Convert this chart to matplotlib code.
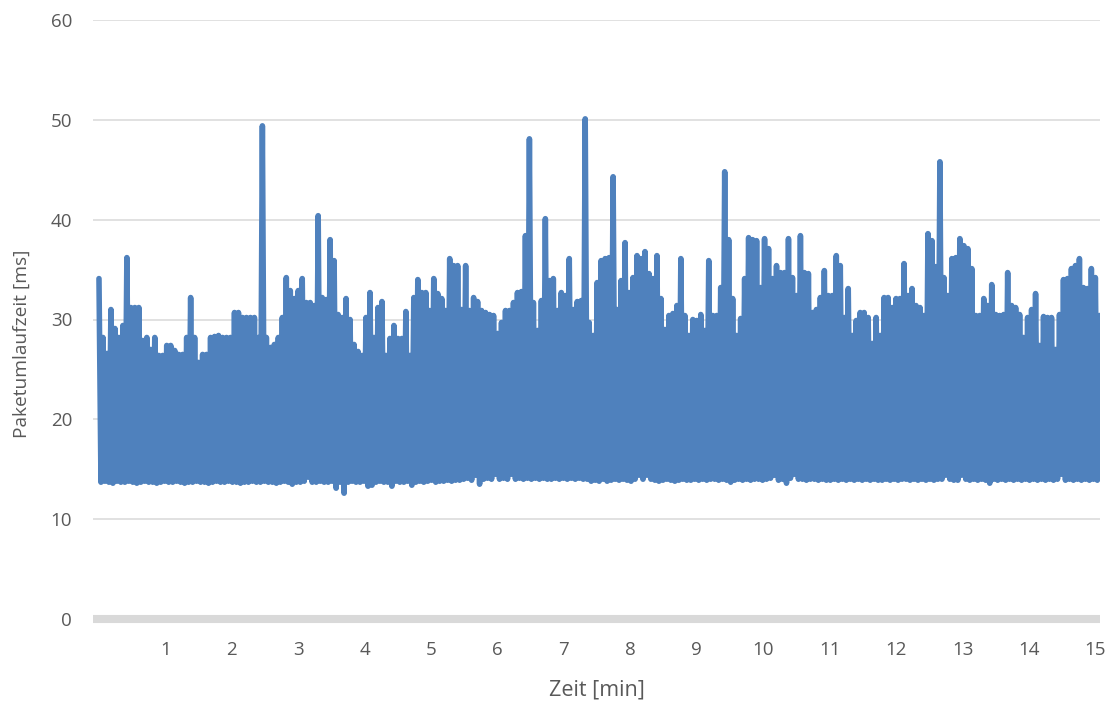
import numpy as np
import matplotlib
matplotlib.use("Agg")
import matplotlib.pyplot as plt

plt.rcParams['font.family'] = ['Open Sans', 'DejaVu Sans']

# ---- data ----
# local maxima of the round-trip time [ms], one every 3.6 s
peaks = [
    34.1, 28.2, 26.6, 31.0, 29.1, 28.2, 29.4, 36.2, 31.2, 31.2,
    31.2, 27.9, 28.2, 27.0, 28.2, 26.4, 26.4, 27.4, 27.4, 26.9,
    26.5, 26.5, 28.2, 32.2, 28.2, 25.7, 26.5, 26.5, 28.2, 28.3,
    28.4, 28.2, 28.2, 28.2, 30.7, 30.7, 30.2, 30.2, 30.2, 30.2,
    28.2, 49.4, 28.2, 27.2, 27.5, 28.2, 30.2, 34.2, 32.9, 32.1,
    32.9, 34.1, 31.7, 31.7, 31.4, 40.4, 32.2, 32.0, 38.0, 35.9,
    30.5, 30.2, 32.1, 30.0, 27.5, 26.8, 26.4, 30.2, 32.7, 28.2,
    31.2, 31.8, 26.4, 28.1, 29.4, 28.1, 28.1, 30.8, 26.4, 32.2,
    34.0, 32.7, 32.7, 30.9, 34.1, 32.6, 32.1, 30.9, 36.1, 35.4,
    35.4, 31.0, 35.4, 30.9, 32.2, 31.8, 30.9, 30.7, 30.5, 30.4,
    28.6, 29.7, 30.9, 30.9, 31.7, 32.7, 32.8, 38.4, 48.1, 31.7,
    28.9, 31.9, 40.1, 33.9, 34.1, 30.9, 32.7, 32.4, 36.1, 31.0,
    31.8, 31.9, 50.1, 29.7, 28.4, 33.7, 35.9, 36.1, 36.2, 44.3,
    31.0, 33.9, 37.7, 32.7, 34.2, 36.4, 36.1, 36.8, 34.6, 34.1,
    36.4, 32.1, 29.0, 30.4, 30.6, 31.4, 36.1, 30.4, 28.4, 30.0,
    29.9, 30.5, 28.9, 35.9, 30.4, 30.4, 33.2, 44.8, 38.0, 32.1,
    28.4, 30.1, 34.1, 38.2, 38.0, 37.9, 33.2, 38.1, 37.1, 34.1,
    35.4, 34.7, 34.7, 38.1, 34.2, 32.4, 38.4, 34.7, 34.6, 30.7,
    31.0, 32.2, 34.9, 32.4, 32.4, 36.4, 35.4, 30.2, 33.1, 28.4,
    29.9, 30.7, 30.7, 30.2, 27.6, 30.2, 28.4, 32.2, 32.2, 31.2,
    32.1, 32.1, 35.6, 32.4, 33.1, 31.4, 31.2, 30.4, 38.6, 37.9,
    35.3, 45.8, 34.2, 32.4, 36.1, 36.2, 38.1, 37.4, 37.1, 35.1,
    30.4, 30.4, 32.1, 31.4, 33.5, 30.5, 30.4, 30.5, 34.7, 31.4,
    31.2, 30.5, 28.2, 30.2, 31.0, 32.6, 27.4, 30.3, 30.2, 30.2,
    27.0, 30.5, 34.0, 34.1, 35.1, 35.4, 36.1, 33.2, 33.1, 35.1,
    34.2, 30.4,
]

# local minima between consecutive maxima [ms]
troughs = [
    13.7, 13.8, 13.7, 13.6, 13.8, 13.7, 13.7, 13.8, 13.7, 13.6,
    13.7, 13.8, 13.7, 13.7, 13.6, 13.7, 13.8, 13.7, 13.7, 13.8,
    13.7, 13.6, 13.7, 13.7, 13.8, 13.7, 13.7, 13.6, 13.7, 13.8,
    13.7, 13.7, 13.8, 13.7, 13.7, 13.6, 13.7, 13.7, 13.8, 13.7,
    13.7, 13.8, 13.7, 13.7, 13.6, 13.7, 13.8, 13.7, 13.5, 13.7,
    13.7, 13.8, 14.2, 13.7, 13.7, 13.8, 13.7, 13.7, 13.8, 13.1,
    13.7, 12.6, 13.7, 13.8, 13.7, 13.7, 13.8, 13.3, 13.4, 13.7,
    13.8, 13.7, 13.7, 13.3, 13.8, 13.7, 13.7, 13.8, 13.4, 13.7,
    13.8, 13.7, 13.8, 13.9, 13.7, 13.8, 13.8, 13.9, 13.8, 13.9,
    13.9, 14.0, 14.1, 13.9, 14.4, 13.5, 14.0, 14.1, 14.0, 14.5,
    14.0, 14.1, 14.0, 14.5, 14.0, 14.1, 14.0, 14.1, 14.0, 14.1,
    14.0, 14.1, 14.0, 14.0, 14.1, 14.0, 14.1, 14.0, 14.1, 14.0,
    14.1, 14.0, 14.0, 13.8, 13.9, 13.8, 14.0, 13.8, 13.9, 14.0,
    13.9, 14.0, 13.9, 13.8, 14.0, 14.4, 14.0, 14.4, 14.0, 13.9,
    13.8, 13.9, 14.0, 13.9, 13.8, 13.9, 14.0, 13.9, 13.9, 14.0,
    13.9, 14.0, 13.9, 14.0, 14.0, 13.9, 14.0, 13.9, 13.7, 13.9,
    14.0, 13.9, 14.0, 13.9, 14.0, 14.0, 13.9, 14.0, 14.1, 14.4,
    13.9, 14.0, 13.6, 14.1, 14.5, 14.0, 14.0, 13.9, 14.0, 14.0,
    13.9, 14.0, 13.9, 13.9, 14.0, 13.9, 14.0, 13.9, 14.0, 13.9,
    14.0, 13.9, 14.0, 13.9, 14.0, 13.9, 13.9, 14.0, 13.9, 14.0,
    13.9, 14.0, 14.0, 13.9, 14.0, 13.9, 14.0, 13.9, 14.0, 13.9,
    14.0, 14.0, 14.4, 14.0, 13.9, 13.9, 14.4, 14.0, 13.9, 14.0,
    13.9, 14.0, 13.9, 13.6, 14.0, 13.9, 14.0, 13.9, 14.0, 13.9,
    14.0, 13.9, 14.0, 13.9, 14.0, 13.9, 14.0, 13.9, 14.0, 13.9,
    14.0, 14.5, 13.9, 14.0, 13.9, 14.0, 13.9, 14.0, 13.9, 14.0,
    13.9,
]

sample_interval_min = 0.03          # 1.8 s between samples
x_ticks = list(range(1, 16))
y_ticks = [0, 10, 20, 30, 40, 50, 60]
x_label = "Zeit [min]"
y_label = "Paketumlaufzeit [ms]"

# interleave maxima and minima into one time series
values = np.empty(len(peaks) + len(troughs))
values[0::2] = peaks
values[1::2] = troughs
times = np.arange(len(values)) * sample_interval_min

# ---- figure ----
W, H = 1109, 704
fig = plt.figure(figsize=(W / 100, H / 100), dpi=100)
ax = fig.add_axes([93 / W, 1 - 619 / H, (1100 - 93) / W, (619 - 20) / H])

grid_c = "#d9d9d9"
text_c = "#595959"

ax.set_xlim(-0.09, 15.07)
ax.set_ylim(0, 60)

for y in y_ticks[1:]:
    ax.axhline(y, color=grid_c, lw=1.1, zorder=0)
ax.axhline(0, color=grid_c, lw=5.8, zorder=1, clip_on=False,
           solid_capstyle='butt')

ax.plot(times, values, color="#4f81bd", lw=4.0,
        solid_joinstyle='round', solid_capstyle='round', zorder=3)

for s in ax.spines.values():
    s.set_visible(False)

ax.set_yticks(y_ticks)
ax.set_yticklabels([str(v) for v in y_ticks])
ax.set_xticks(x_ticks)
ax.set_xticklabels([str(v) for v in x_ticks])
ax.tick_params(axis='both', length=0, labelsize=13.5, colors=text_c)
ax.tick_params(axis='y', pad=15)
ax.tick_params(axis='x', pad=16)

fig.text(597 / W, 1 - 690 / H, x_label, ha='center', va='center',
         fontsize=15.5, color=text_c)
fig.text(22 / W, 1 - 344 / H, y_label, ha='center', va='center',
         rotation=90, fontsize=13.8, color=text_c)

fig.savefig("out.png", dpi=100, facecolor="white")
